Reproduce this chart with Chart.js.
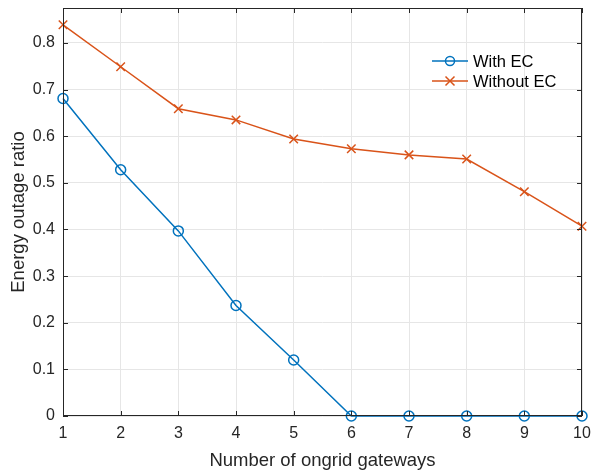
<!DOCTYPE html>
<html>
<head>
<meta charset="utf-8">
<script src="https://cdn.jsdelivr.net/npm/chart.js@4/dist/chart.umd.min.js"></script>
<style>
  html, body { margin: 0; padding: 0; background: #fff; }
  #wrap { width: 592px; height: 474px; }
</style>
</head>
<body>
<div id="wrap"><canvas id="outage-chart" width="592" height="474"></canvas></div>
<script>
const gateways = [1, 2, 3, 4, 5, 6, 7, 8, 9, 10]
const withEC = [0.681, 0.528, 0.397, 0.237, 0.12, 0, 0, 0, 0, 0]
const withoutEC = [0.839, 0.749, 0.659, 0.635, 0.594, 0.573, 0.56, 0.551, 0.481, 0.407]
const yTicks = [0, 0.1, 0.2, 0.3, 0.4, 0.5, 0.6, 0.7, 0.8]
const seriesNames = ['With EC', 'Without EC']

const font = '"Liberation Sans", Arial, Helvetica, sans-serif'
const ink = '#262626'
const blue = '#0072BD'
const orange = '#D95319'

const toPoints = (ys) => gateways.map((x, i) => ({ x: x, y: ys[i] }))

// matlab style box with inward ticks, plus a borderless legend
const boxPlugin = {
  id: 'box',
  afterDraw(chart) {
    const { ctx, chartArea: a, scales } = chart
    ctx.save()
    ctx.strokeStyle = ink
    ctx.lineWidth = 1
    ctx.strokeRect(a.left + 0.5, a.top + 0.5, a.right - a.left - 1, a.bottom - a.top - 1)
    ctx.beginPath()
    gateways.forEach(v => {
      const px = Math.round(scales.x.getPixelForValue(v)) + 0.5
      ctx.moveTo(px, a.bottom); ctx.lineTo(px, a.bottom - 5)
      ctx.moveTo(px, a.top); ctx.lineTo(px, a.top + 5)
    })
    yTicks.forEach(v => {
      const py = Math.round(scales.y.getPixelForValue(v)) + 0.5
      ctx.moveTo(a.left, py); ctx.lineTo(a.left + 5, py)
      ctx.moveTo(a.right, py); ctx.lineTo(a.right - 5, py)
    })
    ctx.stroke()

    // legend
    const lx = 432, ly = 61, gap = 20
    chart.data.datasets.forEach((ds, i) => {
      const y = ly + i * gap
      ctx.strokeStyle = ds.borderColor
      ctx.lineWidth = 1.5
      ctx.beginPath()
      ctx.moveTo(lx, y); ctx.lineTo(lx + 36, y)
      ctx.stroke()
      const cx = lx + 18
      ctx.beginPath()
      if (ds.pointStyle === 'circle') {
        ctx.arc(cx, y, 4.5, 0, Math.PI * 2)
      } else {
        ctx.moveTo(cx - 4.5, y - 4.5); ctx.lineTo(cx + 4.5, y + 4.5)
        ctx.moveTo(cx + 4.5, y - 4.5); ctx.lineTo(cx - 4.5, y + 4.5)
      }
      ctx.stroke()
      ctx.fillStyle = '#000'
      ctx.font = '16.5px ' + font
      ctx.textBaseline = 'middle'
      ctx.textAlign = 'left'
      ctx.fillText(ds.label, lx + 41, y + 1)
    })
    ctx.restore()
  }
}

const ctx = document.getElementById('outage-chart').getContext('2d')

new Chart(ctx, {
  type: 'line',
  data: {
    datasets: [
      {
        label: seriesNames[0],
        data: toPoints(withEC),
        borderColor: blue,
        backgroundColor: 'rgba(0,0,0,0)',
        borderWidth: 1.5,
        pointStyle: 'circle',
        pointRadius: 5,
        pointBorderWidth: 1.5,
        pointBorderColor: blue,
        pointBackgroundColor: 'rgba(0,0,0,0)'
      },
      {
        label: seriesNames[1],
        data: toPoints(withoutEC),
        borderColor: orange,
        backgroundColor: 'rgba(0,0,0,0)',
        borderWidth: 1.5,
        pointStyle: 'crossRot',
        pointRadius: 6,
        pointBorderWidth: 1.5,
        pointBorderColor: orange
      }
    ]
  },
  options: {
    responsive: false,
    animation: false,
    clip: false,
    layout: { padding: { left: 4, right: 10, top: 8, bottom: 0 } },
    plugins: { legend: { display: false }, tooltip: { enabled: false } },
    scales: {
      x: {
        type: 'linear',
        min: 1,
        max: 10,
        afterBuildTicks: (scale) => { scale.ticks = gateways.map(v => ({ value: v })) },
        afterFit: (scale) => { scale.height = 58; scale.paddingLeft = 0; scale.paddingRight = 0 },
        grid: { color: '#e6e6e6', drawTicks: false },
        border: { display: false },
        ticks: { color: ink, padding: 8, maxRotation: 0, font: { family: font, size: 16 } },
        title: { display: true, text: 'Number of ongrid gateways', color: ink, padding: { top: 4, bottom: 2 }, font: { family: font, size: 18.5 } }
      },
      y: {
        min: 0,
        max: 0.875,
        afterBuildTicks: (scale) => { scale.ticks = yTicks.map(v => ({ value: v })) },
        afterFit: (scale) => { scale.width = 59; scale.paddingTop = 0; scale.paddingBottom = 0 },
        grid: { color: '#e6e6e6', drawTicks: false },
        border: { display: false },
        ticks: { color: ink, padding: 8, font: { family: font, size: 16 }, callback: (v) => String(Math.round(v * 10) / 10) },
        title: { display: true, text: 'Energy outage ratio', color: ink, padding: { bottom: 2 }, font: { family: font, size: 18.5 } }
      }
    }
  },
  plugins: [boxPlugin]
})
</script>
</body>
</html>
